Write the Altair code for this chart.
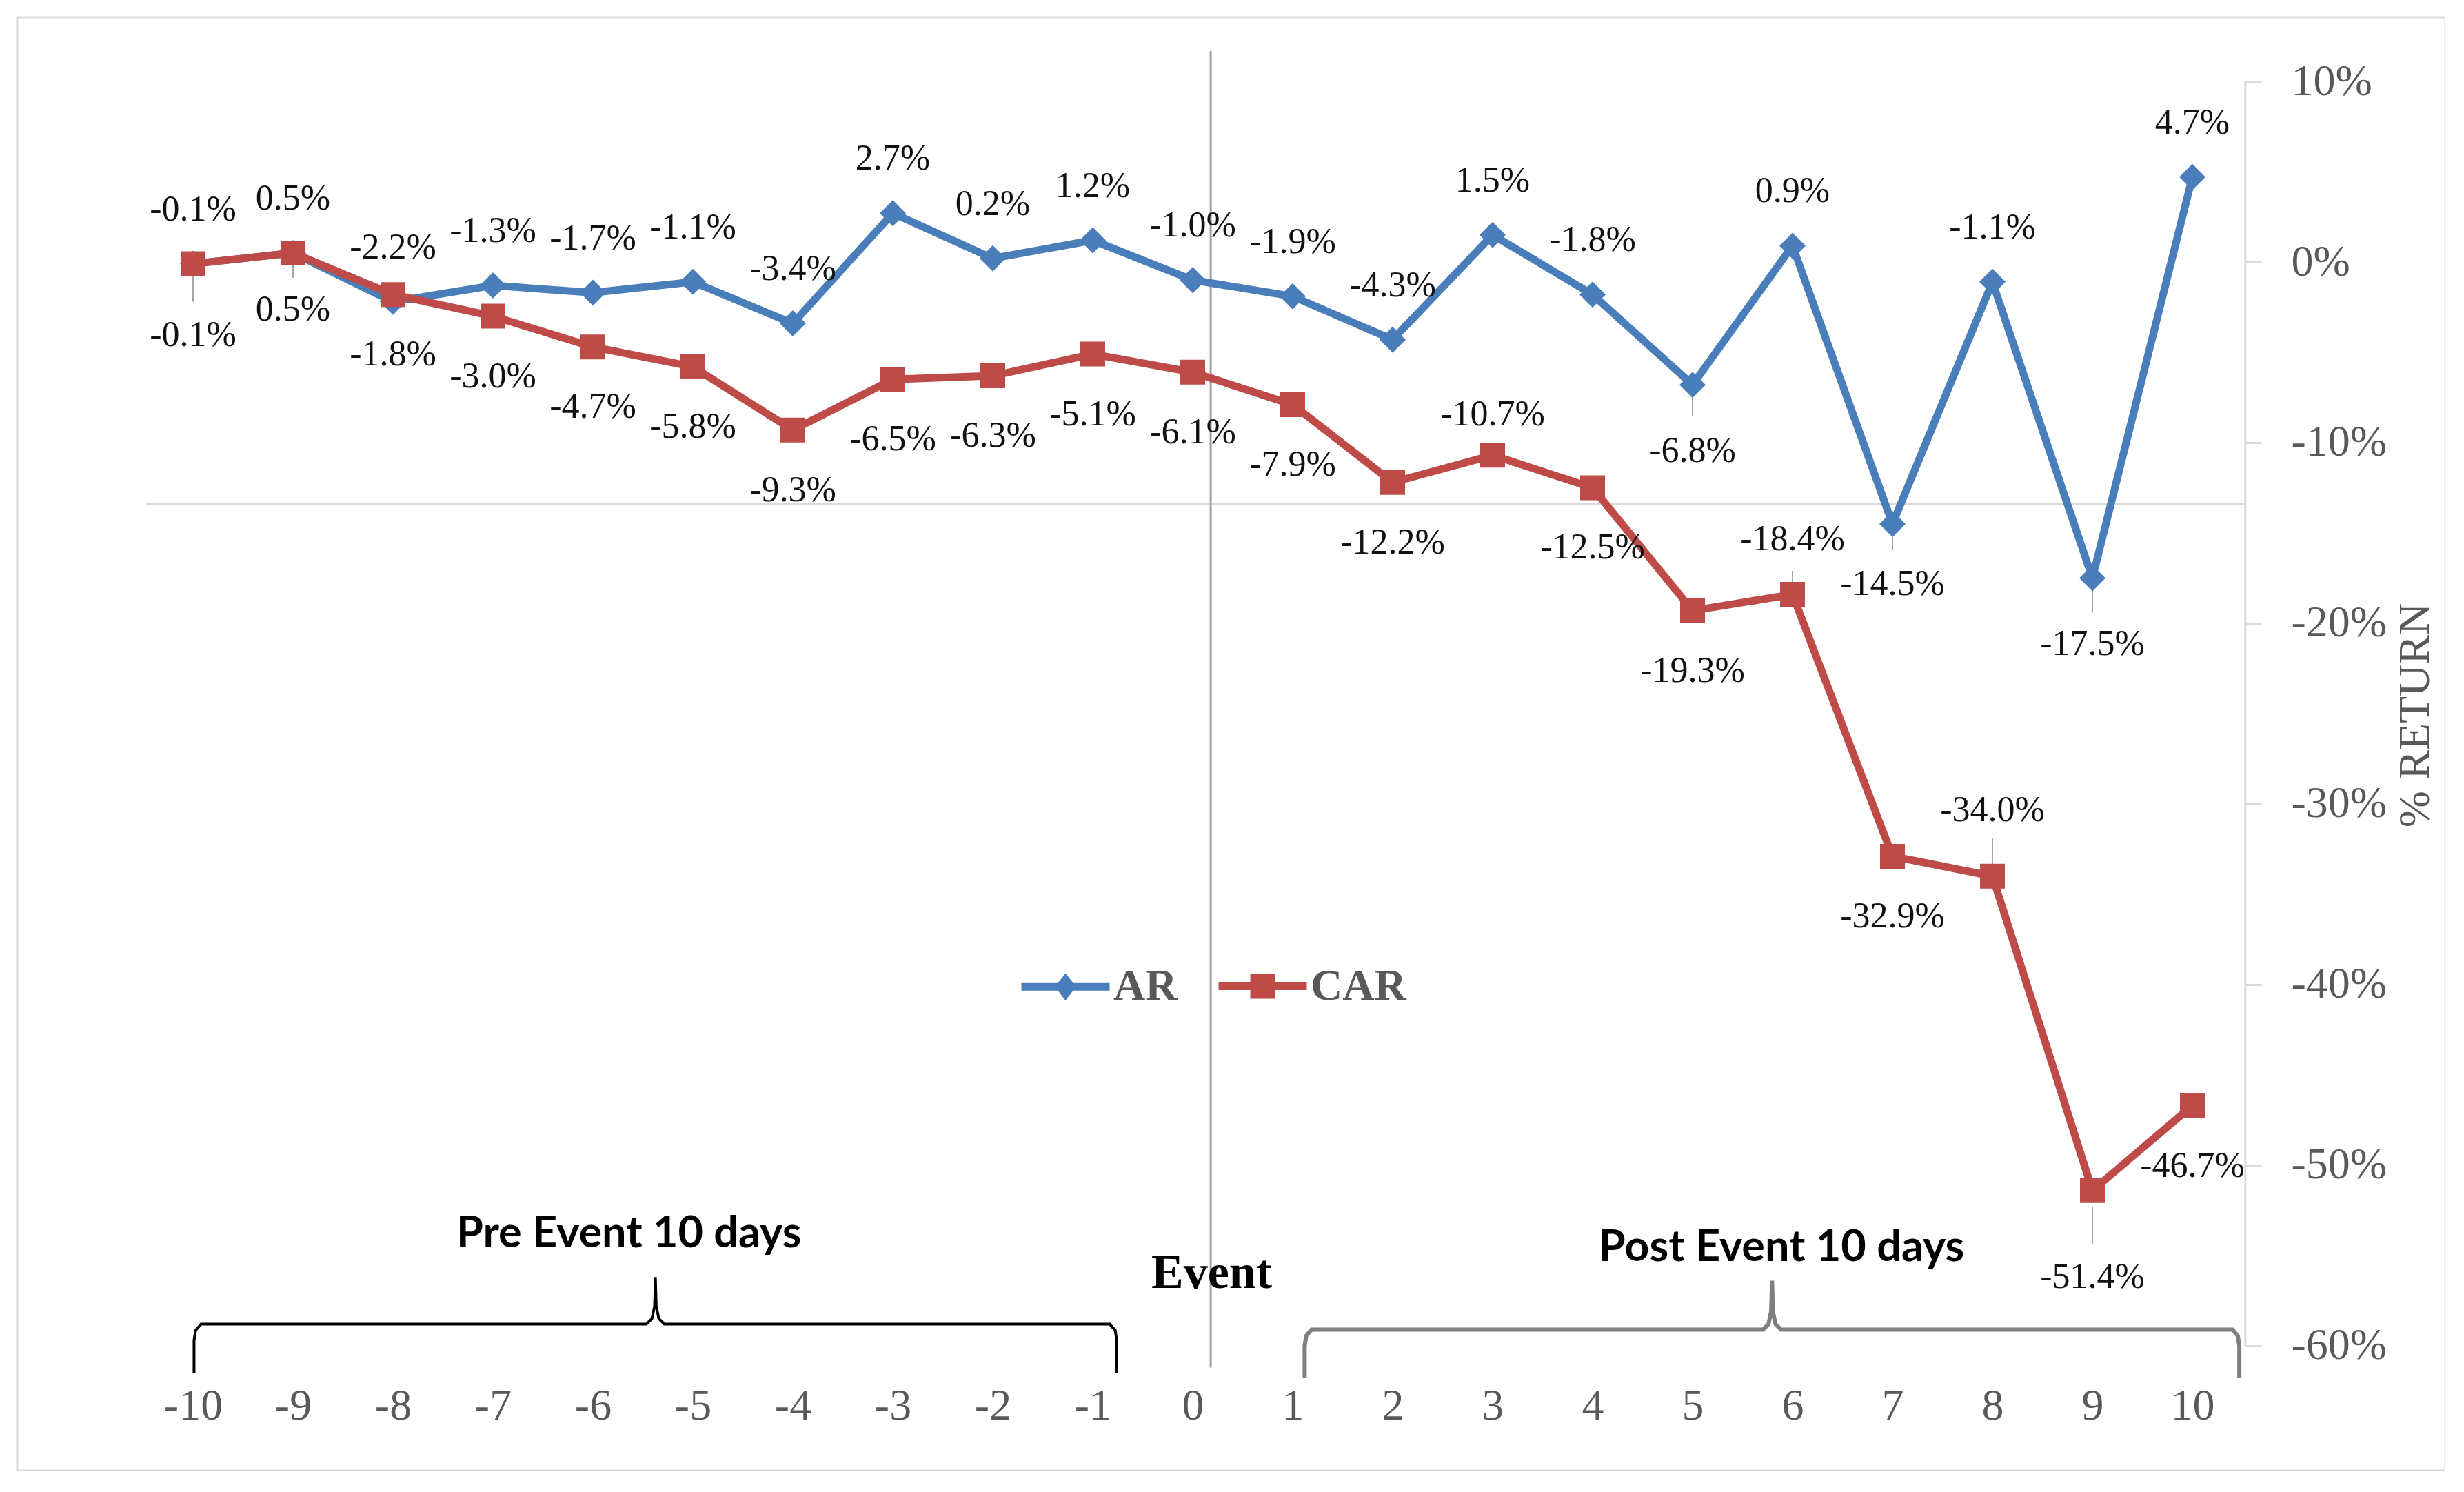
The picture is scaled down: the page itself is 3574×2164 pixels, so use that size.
import altair as alt
import pandas as pd

# ---- data ----
days = list(range(-10, 11))
ar = [-0.1, 0.5, -2.2, -1.3, -1.7, -1.1, -3.4, 2.7, 0.2, 1.2, -1.0,
      -1.9, -4.3, 1.5, -1.8, -6.8, 0.9, -14.5, -1.1, -17.5, 4.7]
car = [-0.1, 0.5, -1.8, -3.0, -4.7, -5.8, -9.3, -6.5, -6.3, -5.1, -6.1,
       -7.9, -12.2, -10.7, -12.5, -19.3, -18.4, -32.9, -34.0, -51.4, -46.7]
series_names = ["AR", "CAR"]
y_ticks = [10, 0, -10, -20, -30, -40, -50, -60]
pre_span = [-9.99, -0.76]
post_span = [1.12, 10.47]

# ---- styling ----
SERIF = "Liberation Serif"
SANS = "Lato"
GREY_TXT = "#595959"
LIGHT = "#d9d9d9"
COLORS = {"AR": "#4a7ebb", "CAR": "#be4b48"}

# label offsets in px (negative = above the marker)
default_dy = {"AR": -79, "CAR": 87}
label_dy = {("AR", 5): 96, ("AR", 7): 87, ("AR", 9): 96,
            ("CAR", -10): 103, ("CAR", -9): 82, ("CAR", 3): -59,
            ("CAR", 6): -80, ("CAR", 8): -96, ("CAR", 9): 125}
# leader lines for labels pushed away from their marker (px from marker)
leaders = {("CAR", -10): (18, 55), ("CAR", -9): (0, 36), ("AR", 5): (3, 45),
           ("AR", 7): (12, 37), ("AR", 9): (15, 50), ("CAR", 6): (-34, -2),
           ("CAR", 8): (-55, -8), ("CAR", 9): (23, 77)}

rows = []
for name, vals in zip(series_names, [ar, car]):
    for d, v in zip(days, vals):
        rows.append({"day": d, "series": name, "value": v,
                     "label": f"{v:.1f}%",
                     "dy": label_dy.get((name, d), default_dy[name])})
df = pd.DataFrame(rows)

x_scale = alt.Scale(domain=[-11.7586, 12.531], nice=False, zero=False)
y_scale = alt.Scale(domain=[-66.91, 13.55], nice=False, zero=False)

x_axis = alt.Axis(values=days, orient="bottom", offset=-94, domain=False,
                  ticks=False, labelPadding=0, grid=False,
                  labelExpr="'' + datum.value",
                  labelBaseline="middle", labelFont=SERIF, labelFontSize=64,
                  labelColor=GREY_TXT, labelFlush=False, labelOverlap=False,
                  title="")
y_axis = alt.Axis(values=y_ticks, orient="right", offset=-290, domain=False,
                  ticks=True, tickSize=23, tickWidth=3, tickColor=LIGHT,
                  labelPadding=43, labelAlign="left", labelBaseline="middle",
                  labelExpr="datum.value + '%'", labelFont=SERIF,
                  labelFontSize=64, labelColor=GREY_TXT, labelFlush=False,
                  labelOverlap=False, grid=False,
                  title="% RETURN", titleAngle=270, titleX=246, titleY=1012,
                  titleFont=SERIF, titleFontSize=64, titleColor=GREY_TXT,
                  titleFontWeight="normal", titleAlign="center",
                  titleBaseline="middle")


def X(field):
    return alt.X(field, type="quantitative", scale=x_scale, axis=x_axis)


def Y(field):
    return alt.Y(field, type="quantitative", scale=y_scale, axis=y_axis)


# reference lines: horizontal axis, vertical axis, event marker
lines_df = pd.DataFrame([
    {"x": -10.47, "x2": 10.53, "y": -13.4, "y2": -13.4},
    {"x": 10.53, "x2": 10.53, "y": 10, "y2": -60},
])
axis_lines = alt.Chart(lines_df).mark_rule(color=LIGHT, strokeWidth=3).encode(
    x=X("x"), x2="x2:Q", y=Y("y"), y2="y2:Q",
)
event_df = pd.DataFrame({"x": [0.18], "y": [11.68], "y2": [-61.2]})
event_line = alt.Chart(event_df).mark_rule(color="#a0a0a0", strokeWidth=3).encode(
    x=X("x"), y=Y("y"), y2="y2:Q",
)


def leader_layers():
    out = []
    for (name, d), (a, b) in leaders.items():
        out.append(
            alt.Chart(df)
            .transform_filter((alt.datum.series == name) & (alt.datum.day == d))
            .mark_rule(color="#a6a6a6", strokeWidth=2, yOffset=a, y2Offset=b)
            .encode(x=X("day"), y=Y("value"), y2="value:Q")
        )
    return alt.layer(*out)


def series_layers(name, shape, size):
    base = alt.Chart(df).transform_filter(alt.datum.series == name)
    line = base.mark_line(strokeWidth=11, color=COLORS[name]).encode(
        x=X("day"), y=Y("value"))
    pts = base.mark_point(shape=shape, size=size, filled=True, opacity=1,
                          color=COLORS[name]).encode(x=X("day"), y=Y("value"))
    return line + pts


def label_layers():
    out = []
    for dy in sorted(df["dy"].unique()):
        out.append(
            alt.Chart(df).transform_filter(alt.datum.dy == int(dy))
            .mark_text(dy=int(dy), font=SERIF, fontSize=52, color="#111111",
                       baseline="middle", align="center")
            .encode(x=X("day"), y=Y("value"), text="label:N")
        )
    return alt.layer(*out)


# legend layer (no rows drawn): symbols are line + marker paths
legend_paths = [
    "M-1,0H1M0,-0.17L0.13,0L0,0.17L-0.13,0ZM0,-0.08V0.08",
    "M-1,0H1M-0.195,-0.195H0.195V0.195H-0.195ZM-0.06,-0.06H0.06V0.06H-0.06Z",
]
legend = alt.Legend(orient="none", legendX=1451, legendY=1336,
                    direction="horizontal", title="",
                    symbolSize=16384, symbolStrokeWidth=11, symbolOpacity=1,
                    labelFont=SERIF, labelFontSize=64, labelFontWeight="bold",
                    labelColor=GREY_TXT, labelOffset=0, columnPadding=37)
legend_layer = alt.Chart(df).transform_filter("false").mark_point(
    filled=False, strokeWidth=11, size=16384, opacity=1
).encode(
    x=X("day"), y=Y("value"),
    color=alt.Color("series:N",
                    scale=alt.Scale(domain=series_names,
                                    range=[COLORS[s] for s in series_names]),
                    legend=legend),
    shape=alt.Shape("series:N",
                    scale=alt.Scale(domain=series_names, range=legend_paths),
                    legend=legend),
)


def bracket(span, base, tip, foot):
    x0, x1 = span
    mid = (x0 + x1) / 2
    pts = [(x0, foot), (x0, base - 0.9), (x0 + 0.015, base - 0.35), (x0 + 0.07, base),
           (mid - 0.09, base), (mid - 0.035, base + 0.3), (mid - 0.008, base + 1.0),
           (mid, tip), (mid + 0.008, base + 1.0), (mid + 0.035, base + 0.3),
           (mid + 0.09, base), (x1 - 0.07, base), (x1 - 0.015, base - 0.35),
           (x1, base - 0.9), (x1, foot)]
    return pd.DataFrame({"i": range(len(pts)), "x": [p[0] for p in pts],
                         "y": [p[1] for p in pts]})


def bracket_layer(data, color, width):
    return alt.Chart(data).mark_line(color=color, strokeWidth=width).encode(
        x=X("x"), y=Y("y"), order="i:Q",
    )


pre_br = bracket_layer(bracket(pre_span, -58.8, -56.2, -61.5), "#000000", 4)
post_br = bracket_layer(bracket(post_span, -59.1, -56.4, -61.8), "#7f7f7f", 6)

notes_df = pd.DataFrame([
    {"x": -5.64, "y": -53.8, "text": "Pre Event 10 days", "font": "sans"},
    {"x": 5.89, "y": -54.6, "text": "Post Event 10 days", "font": "sans"},
    {"x": 0.19, "y": -56.0, "text": "Event", "font": "serif"},
])


def note_layer(kind, font, size):
    return alt.Chart(notes_df).transform_filter(alt.datum.font == kind).mark_text(
        font=font, fontSize=size, fontWeight="bold", color="#000000",
        baseline="middle", align="center",
    ).encode(x=X("x"), y=Y("y"), text="text:N")


chart = alt.layer(
    axis_lines,
    event_line,
    leader_layers(),
    series_layers("AR", "diamond", 1444),
    series_layers("CAR", "square", 1296),
    label_layers(),
    legend_layer,
    pre_br,
    post_br,
    note_layer("sans", SANS, 63),
    note_layer("serif", SERIF, 70),
).properties(
    width=3522, height=2108,
    padding={"left": 17, "top": 17, "right": 0, "bottom": 0},
    background="white",
).configure_view(stroke=LIGHT, strokeWidth=3)

chart.save("out.html", embed_options={"renderer": "svg", "actions": False})
